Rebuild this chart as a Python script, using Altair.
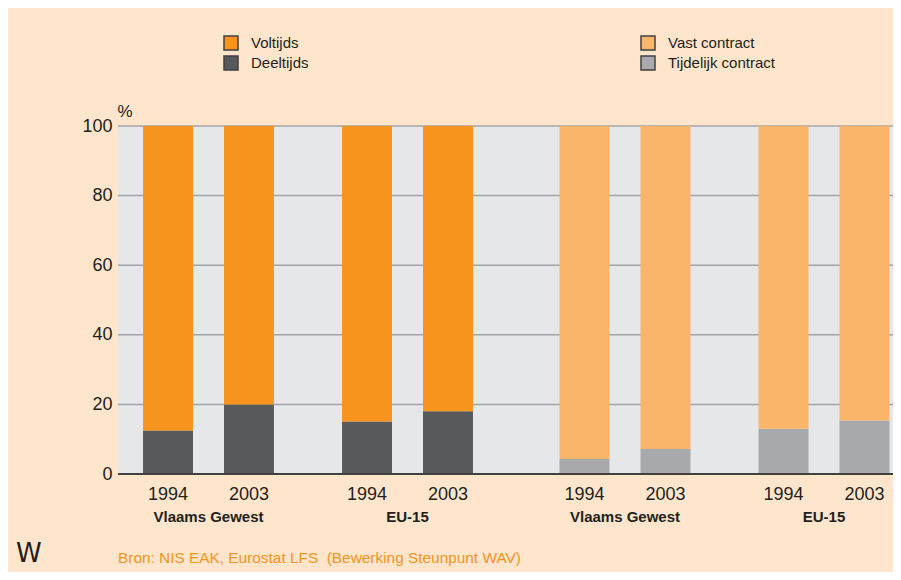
import altair as alt
import pandas as pd

# ---- data ----
regios = ["Vlaams Gewest", "EU-15"]
jaren = ["1994", "2003"]
# order of values: Vlaams Gewest 1994, Vlaams Gewest 2003, EU-15 1994, EU-15 2003
voltijds = [87.5, 80.0, 84.9, 82.0]
deeltijds = [12.5, 20.0, 15.1, 18.0]
vast_contract = [95.7, 92.8, 87.0, 84.6]
tijdelijk_contract = [4.3, 7.2, 13.0, 15.4]

duur_cats = ["Voltijds", "Deeltijds"]
contract_cats = ["Vast contract", "Tijdelijk contract"]
duur_kleuren = ["#f7941d", "#58595b"]
contract_kleuren = ["#fbb56b", "#a7a9ac"]
y_ticks = [0, 20, 40, 60, 80, 100]
bron = "Bron: NIS EAK, Eurostat LFS\u00a0\u00a0(Bewerking Steunpunt WAV)"

FONT = "Liberation Sans, Arial, sans-serif"
TXT = "#231f20"


def build(top_vals, bottom_vals, cats):
    rows = []
    i = 0
    for r in regios:
        for j in jaren:
            rows.append(dict(regio=r, jaar=j, categorie=cats[1], waarde=bottom_vals[i], volgorde=0))
            rows.append(dict(regio=r, jaar=j, categorie=cats[0], waarde=top_vals[i], volgorde=1))
            i += 1
    return pd.DataFrame(rows)


y_axis = alt.Axis(
    values=y_ticks, title="%", titleAngle=0, titleX=-1, titleY=-6,
    titleAlign="left", titleBaseline="bottom", titleFont=FONT, titleFontSize=17,
    titleFontWeight="normal", titleColor=TXT,
    labelFont=FONT, labelFontSize=18, labelColor=TXT, labelPadding=6,
    ticks=False, domain=False, grid=False,
)


def half(df, cats, colors, x_range, legend_x):
    base = alt.Chart(df)
    xenc = alt.X("regio:N", sort=regios, axis=None,
                 scale=alt.Scale(range=x_range, paddingInner=0.0905, paddingOuter=0))
    xoff = alt.XOffset("jaar:N", sort=jaren,
                       scale=alt.Scale(paddingInner=0.383, paddingOuter=0.309))
    bars = base.mark_bar().encode(
        x=xenc,
        xOffset=xoff,
        y=alt.Y("waarde:Q", stack="zero", scale=alt.Scale(domain=[0, 100], nice=False), axis=y_axis),
        color=alt.Color(
            "categorie:N",
            scale=alt.Scale(domain=cats, range=colors),
            legend=alt.Legend(
                title=None, orient="none", legendX=legend_x, legendY=-91,
                symbolType="square", symbolSize=196, symbolStrokeColor="#414042",
                symbolStrokeWidth=1.5, symbolOpacity=1,
                labelFont=FONT, labelFontSize=15, labelColor=TXT, labelOffset=12,
                rowPadding=0, padding=0,
            ),
        ),
        order=alt.Order("volgorde:Q", sort="ascending"),
    )
    years = base.transform_filter(alt.datum.volgorde == 0).mark_text(
        dy=21, fontSize=18, font=FONT, color=TXT, baseline="middle"
    ).encode(x=xenc, xOffset=xoff, y=alt.datum(0), text="jaar:N")
    groups = base.transform_filter(
        (alt.datum.volgorde == 0) & (alt.datum.jaar == jaren[0])
    ).mark_text(
        dy=43, fontSize=15, font=FONT, fontWeight="bold", color=TXT, baseline="middle"
    ).encode(x=xenc, y=alt.datum(0), text="regio:N")
    return alt.layer(bars, years, groups)


left = half(build(voltijds, deeltijds, duur_cats), duur_cats, duur_kleuren, [0, 380], 105)
right = half(build(vast_contract, tijdelijk_contract, contract_cats), contract_cats,
             contract_kleuren, [416.5, 796.5], 522)

grid = alt.Chart(pd.DataFrame({"tick": y_ticks[1:]})).mark_rule(
    color="#a3a4a7", strokeWidth=1.5
).encode(y="tick:Q")

baseline = alt.Chart(pd.DataFrame({"nul": [0]})).mark_rule(
    color="#414042", strokeWidth=2
).encode(y="nul:Q")

source = alt.Chart(pd.DataFrame({"t": [bron]})).mark_text(
    font=FONT, fontSize=15.4, color="#f7941d", align="left", baseline="middle"
).encode(x=alt.value(0), y=alt.value(432), text="t:N")

logo = alt.Chart(pd.DataFrame({"t": ["W"]})).mark_text(
    font="DejaVu Sans", fontSize=26, color="#231f20", align="left", baseline="middle"
).encode(x=alt.value(-102), y=alt.value(428), text="t:N")

chart = alt.layer(grid, left, right, baseline, source, logo).resolve_scale(
    x="independent", xOffset="independent", color="independent"
).properties(
    width=775,
    height=348,
    autosize="none",
    padding={"left": 110, "top": 118, "right": 0, "bottom": 98},
).configure(
    background="#fee5cb"
).configure_view(
    fill="#e6e7e8", strokeWidth=0
)

chart.save("out.html", embed_options={"renderer": "svg", "actions": False})
